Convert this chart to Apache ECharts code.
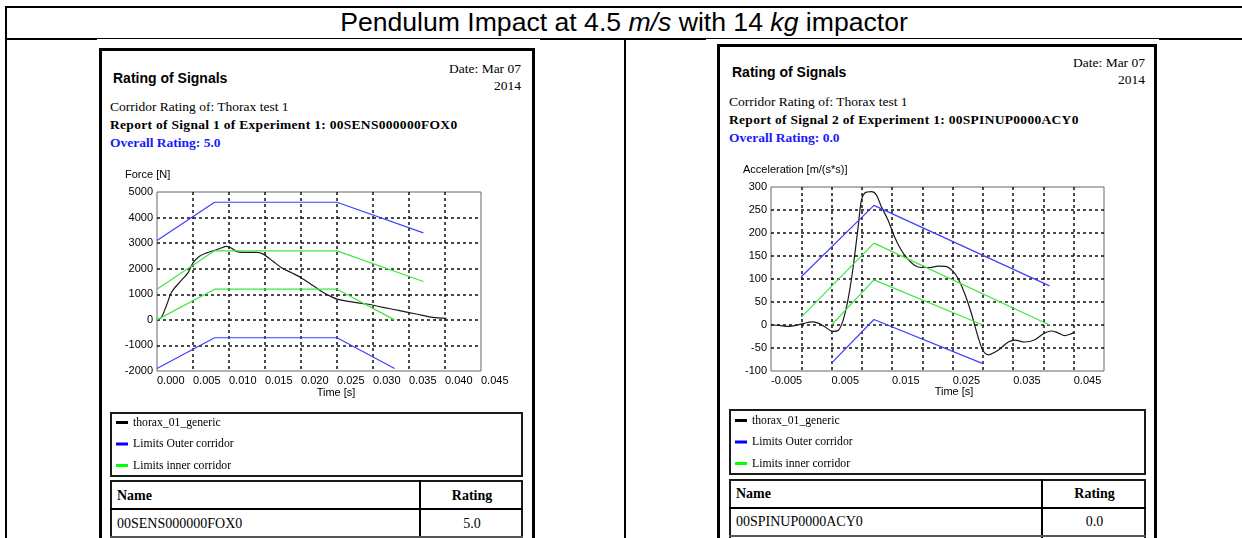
<!DOCTYPE html>
<html>
<head>
<meta charset="utf-8">
<title>Pendulum Impact at 4.5 m/s with 14 kg impactor</title>
<script src="https://cdn.jsdelivr.net/npm/echarts@6/dist/echarts.min.js"></script>
<style>
  html, body { margin: 0; padding: 0; background: #fff; }
  #page { position: relative; width: 1242px; height: 538px; overflow: hidden; }
  #page div { position: absolute; }
  .ln { background: #000; }
  .white { background: #fff; }
  .panel { background: #fff; border: 3px solid #000; border-bottom: none; box-sizing: border-box; }
  .box { border: 2px solid #1a1a1a; box-sizing: border-box; }
  .txt { white-space: nowrap; line-height: 16px; height: 16px; color: #000; }
  .serif { font-family: 'Liberation Serif', 'Times New Roman', serif; font-size: 13.5px; }
  .bold { font-weight: bold; }
  .wide { letter-spacing: 0.3px; }
  .head { font-family: 'Liberation Sans', Arial, sans-serif; font-weight: bold; font-size: 14px; }
  .blue { color: #1a1aff; }
  .cell { font-family: 'Liberation Serif', 'Times New Roman', serif; font-size: 14px; }
  #title { left: 6px; width: 1236px; top: 7px; text-align: center; line-height: 30px;
           font-family: 'Liberation Sans', Arial, sans-serif; font-size: 26.6px; white-space: nowrap; }
  #chart { left: 0; top: 0; width: 1242px; height: 538px; z-index: 2; }
</style>
</head>
<body>
<div id="page">
  <!-- outer table frame -->
  <div class="ln" style="left:5px; top:6px; width:1237px; height:2px;"></div>
  <div class="ln" style="left:5px; top:6px; width:2px; height:532px;"></div>
  <div class="ln" style="left:5px; top:38px; width:1237px; height:2px;"></div>
  <div class="ln" style="left:624px; top:38px; width:2px; height:500px;"></div>
  <div id="title">Pendulum Impact at 4.5 <i>m/s</i> with 14 <i>kg</i> impactor</div>

  <!-- left report -->
  <div class="white" style="left:97px; top:39px; width:443px; height:499px;"></div>
  <div class="panel" style="left:99px; top:48px; width:436px; height:500px;"></div>
  <div class="txt head" style="left:113px; top:70px;">Rating of Signals</div>
  <div class="txt serif" style="right:721px; top:61px; text-align:right;">Date: Mar 07</div>
  <div class="txt serif" style="right:721px; top:78px; text-align:right;">2014</div>
  <div class="txt serif" style="left:110px; top:99px;">Corridor Rating of: Thorax test 1</div>
  <div class="txt serif bold wide" style="left:110px; top:117px;">Report of Signal 1 of Experiment 1: 00SENS000000FOX0</div>
  <div class="txt serif bold blue" style="left:110px; top:135px;">Overall Rating: 5.0</div>
  <div class="box" style="left:110px; top:412px; width:413px; height:65px;"></div>
  <div class="box" style="left:110px; top:480px; width:413px; height:70px;"></div>
  <div class="ln" style="left:110px; top:508px; width:413px; height:2px;"></div>
  <div class="ln" style="left:419px; top:480px; width:2px; height:70px;"></div>
  <div class="ln" style="left:110px; top:536px; width:413px; height:2px; background:#555;"></div>
  <div class="txt cell bold" style="left:117px; top:488px;">Name</div>
  <div class="txt cell bold" style="left:421px; width:102px; top:488px; text-align:center;">Rating</div>
  <div class="txt cell" style="left:117px; top:516px;">00SENS000000FOX0</div>
  <div class="txt cell" style="left:421px; width:102px; top:516px; text-align:center;">5.0</div>

  <!-- right report -->
  <div class="white" style="left:706px; top:39px; width:453px; height:499px;"></div>
  <div class="panel" style="left:717px; top:44px; width:440px; height:500px;"></div>
  <div class="txt head" style="left:732px; top:64px;">Rating of Signals</div>
  <div class="txt serif" style="right:97px; top:55px; text-align:right;">Date: Mar 07</div>
  <div class="txt serif" style="right:97px; top:72px; text-align:right;">2014</div>
  <div class="txt serif" style="left:729px; top:94px;">Corridor Rating of: Thorax test 1</div>
  <div class="txt serif bold wide" style="left:729px; top:112px;">Report of Signal 2 of Experiment 1: 00SPINUP0000ACY0</div>
  <div class="txt serif bold blue" style="left:729px; top:130px;">Overall Rating: 0.0</div>
  <div class="box" style="left:729px; top:409px; width:417px; height:66px;"></div>
  <div class="box" style="left:729px; top:479px; width:417px; height:70px;"></div>
  <div class="ln" style="left:729px; top:507px; width:417px; height:2px;"></div>
  <div class="ln" style="left:1041px; top:479px; width:2px; height:70px;"></div>
  <div class="ln" style="left:729px; top:535px; width:417px; height:2px; background:#555;"></div>
  <div class="txt cell bold" style="left:736px; top:486px;">Name</div>
  <div class="txt cell bold" style="left:1043px; width:103px; top:486px; text-align:center;">Rating</div>
  <div class="txt cell" style="left:736px; top:514px;">00SPINUP0000ACY0</div>
  <div class="txt cell" style="left:1043px; width:103px; top:514px; text-align:center;">0.0</div>

  <div id="chart"></div>
</div>

<script>
// Signal 1: force [N] over time [s]
var forceTime = [0, 0.0006, 0.0013, 0.002, 0.0031, 0.0043, 0.005, 0.0059, 0.0069, 0.008,
  0.0089, 0.0096, 0.0103, 0.011, 0.0119, 0.0138, 0.0147, 0.0161, 0.0173, 0.0187,
  0.02, 0.0217, 0.0231, 0.0244, 0.025, 0.0268, 0.0291, 0.0314, 0.0337, 0.036, 0.0383, 0.0402]
var forceValue = [0, 100, 550, 1070, 1460, 1840, 2230, 2490, 2620, 2720,
  2810, 2870, 2810, 2680, 2640, 2640, 2580, 2290, 2040, 1840,
  1650, 1330, 1070, 880, 810, 710, 620, 490, 360, 230, 100, 60]
var forceOuterUpperTime = [0, 0.008, 0.025, 0.037]
var forceOuterUpper = [3100, 4600, 4600, 3400]
var forceOuterLowerTime = [0, 0.008, 0.025, 0.033]
var forceOuterLower = [-1900, -700, -700, -1900]
var forceInnerUpperTime = [0, 0.008, 0.025, 0.037]
var forceInnerUpper = [1200, 2700, 2700, 1500]
var forceInnerLowerTime = [0, 0.008, 0.025, 0.033]
var forceInnerLower = [0, 1200, 1200, 0]
var forceYTicks = [-2000, -1000, 0, 1000, 2000, 3000, 4000, 5000]
var forceXTicks = [0, 0.005, 0.01, 0.015, 0.02, 0.025, 0.03, 0.035, 0.04, 0.045]
var forceXLabels = ['0.000', '0.005', '0.010', '0.015', '0.020', '0.025', '0.030', '0.035', '0.040', '0.045']

// Signal 2: acceleration [m/(s*s)] over time [s]
var accTime = [-0.005, -0.0036, -0.0022, -0.0006, 0.0003, 0.0017, 0.0028, 0.0039, 0.0052, 0.0061,
  0.0069, 0.0077, 0.0085, 0.0094, 0.0099, 0.0105, 0.0116, 0.0124, 0.0132, 0.0143,
  0.0154, 0.0165, 0.0176, 0.0187, 0.0198, 0.0212, 0.0226, 0.024, 0.0251, 0.0259,
  0.027, 0.0281, 0.0292, 0.03, 0.0309, 0.0317, 0.0328, 0.0342, 0.0353, 0.0369,
  0.0386, 0.04, 0.0413, 0.0424, 0.0435, 0.0444, 0.045]
var accValue = [0, -1, -3, 0, 3, 7, 4, -4, -14, -12,
  10, 54, 119, 214, 269, 287, 290, 283, 258, 229,
  192, 163, 143, 130, 125, 125, 128, 127, 116, 101,
  68, 25, -26, -55, -65, -61, -52, -37, -33, -37,
  -32, -19, -13, -17, -23, -20, -16]
var accOuterUpperTime = [0, 0.012, 0.041]
var accOuterUpper = [105, 260, 85]
var accOuterLowerTime = [0.005, 0.012, 0.030]
var accOuterLower = [-83, 12, -84]
var accInnerUpperTime = [0, 0.012, 0.041]
var accInnerUpper = [17, 178, 0]
var accInnerLowerTime = [0.005, 0.012, 0.030]
var accInnerLower = [0, 98, 0]
var accYTicks = [-100, -50, 0, 50, 100, 150, 200, 250, 300]
var accXTicks = [-0.005, 0, 0.005, 0.01, 0.015, 0.02, 0.025, 0.03, 0.035, 0.04, 0.045, 0.05]
var accXLabels = ['-0.005', '0.005', '0.015', '0.025', '0.035', '0.045']

var seriesNames = ['thorax_01_generic', 'Limits Outer corridor', 'Limits inner corridor']
var lineColors = ['#1a1a1a', '#3f3fff', '#3ee83e']
var legendColors = ['#000000', '#0000ff', '#00ff00']

var sansFont = "'Liberation Sans', Arial, sans-serif"
var serifFont = "'Liberation Serif', 'Times New Roman', serif"

function pairs(ts, vs) {
  return ts.map(function (t, i) { return [t, vs[i]] })
}

function line(name, color, grid, data, smooth) {
  return {
    name: name,
    type: 'line',
    xAxisIndex: grid,
    yAxisIndex: grid,
    data: data,
    symbol: 'none',
    smooth: smooth ? 0.3 : false,
    color: color,
    lineStyle: { color: color, width: 1.2 },
    animation: false,
  }
}

var gridLine = {
  show: true,
  showMinLine: false,
  showMaxLine: false,
  lineStyle: { color: '#111', type: [3, 3], width: 1.5 },
}

function timeAxis(grid, ticks, labels, padLeft, gap) {
  return {
    type: 'value',
    gridIndex: grid,
    min: ticks[0],
    max: ticks[ticks.length - 1],
    interval: ticks[1] - ticks[0],
    name: 'Time [s]',
    nameLocation: 'middle',
    nameGap: gap,
    nameTextStyle: { color: '#000', fontFamily: sansFont, fontSize: 11, padding: [0, 0, 0, padLeft] },
    axisLine: { show: false },
    axisTick: { show: false },
    splitLine: gridLine,
    axisLabel: {
      color: '#000',
      fontFamily: sansFont,
      fontSize: 11,
      margin: 4,
      align: 'left',
      formatter: function (v) {
        var s = v.toFixed(3)
        return labels.indexOf(s) >= 0 ? s : ''
      },
    },
  }
}

function valueAxis(grid, ticks) {
  return {
    type: 'value',
    gridIndex: grid,
    min: ticks[0],
    max: ticks[ticks.length - 1],
    interval: ticks[1] - ticks[0],
    axisLine: { show: false },
    axisTick: { show: false },
    splitLine: gridLine,
    axisLabel: {
      color: '#000',
      fontFamily: sansFont,
      fontSize: 11,
      margin: 4,
      padding: [0, 0, 5, 0],
      formatter: function (v) { return String(v) },
    },
  }
}

function legend(left, top) {
  return {
    left: left,
    top: top,
    orient: 'vertical',
    padding: 0,
    icon: 'rect',
    itemWidth: 12,
    itemHeight: 3,
    itemGap: 8.5,
    selectedMode: false,
    textStyle: { color: '#000', fontFamily: serifFont, fontSize: 11.7, lineHeight: 13 },
    data: seriesNames.map(function (n, i) {
      return { name: n, itemStyle: { color: legendColors[i] } }
    }),
  }
}

var chart = echarts.init(document.getElementById('chart'))

var option = {
  animation: false,
  grid: [
    { left: 157, top: 192, width: 324, height: 179, show: true, borderColor: '#666', borderWidth: 1 },
    { left: 771, top: 187, width: 333, height: 184, show: true, borderColor: '#666', borderWidth: 1 },
  ],
  xAxis: [
    timeAxis(0, forceXTicks, forceXLabels, 34, 16),
    timeAxis(1, accXTicks, accXLabels, 33, 14),
  ],
  yAxis: [valueAxis(0, forceYTicks), valueAxis(1, accYTicks)],
  legend: [legend(116, 416), legend(735, 414)],
  graphic: [
    { type: 'text', left: 125, top: 169, style: { text: 'Force [N]', font: '11px ' + sansFont, fill: '#000' } },
    { type: 'text', left: 743, top: 164, style: { text: 'Acceleration [m/(s*s)]', font: '11px ' + sansFont, fill: '#000' } },
  ],
  series: [
    line(seriesNames[0], lineColors[0], 0, pairs(forceTime, forceValue), true),
    line(seriesNames[1], lineColors[1], 0, pairs(forceOuterUpperTime, forceOuterUpper)),
    line(seriesNames[1], lineColors[1], 0, pairs(forceOuterLowerTime, forceOuterLower)),
    line(seriesNames[2], lineColors[2], 0, pairs(forceInnerUpperTime, forceInnerUpper)),
    line(seriesNames[2], lineColors[2], 0, pairs(forceInnerLowerTime, forceInnerLower)),
    line(seriesNames[0], lineColors[0], 1, pairs(accTime, accValue), true),
    line(seriesNames[1], lineColors[1], 1, pairs(accOuterUpperTime, accOuterUpper)),
    line(seriesNames[1], lineColors[1], 1, pairs(accOuterLowerTime, accOuterLower)),
    line(seriesNames[2], lineColors[2], 1, pairs(accInnerUpperTime, accInnerUpper)),
    line(seriesNames[2], lineColors[2], 1, pairs(accInnerLowerTime, accInnerLower)),
  ],
}

chart.setOption(option)
</script>
</body>
</html>
